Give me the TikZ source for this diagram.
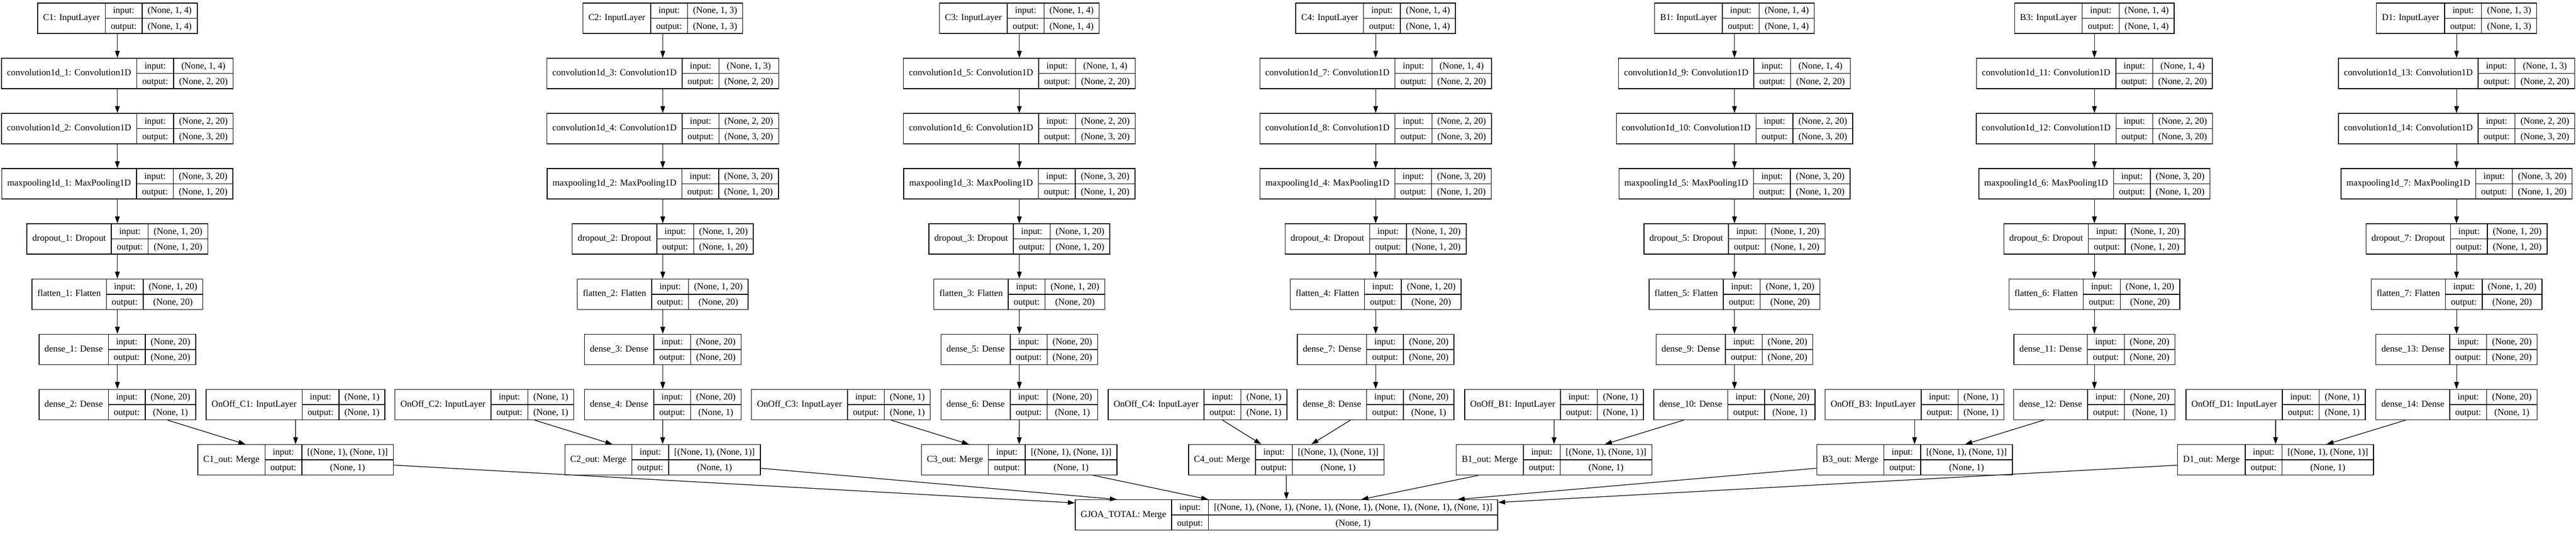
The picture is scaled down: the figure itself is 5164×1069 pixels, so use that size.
\documentclass[tikz,border=0pt]{standalone}
\usepackage{fontspec}
\setmainfont{Liberation Serif}
\usetikzlibrary{arrows.meta,calc}
\setlength{\arrayrulewidth}{1.5pt}
\newcommand{\cellpad}[1]{\kern11pt #1\kern11pt}
\newcommand{\layer}[3]{{\setlength{\tabcolsep}{0pt}\renewcommand{\arraystretch}{1.35}%
\begin{tabular}{c|c|c}\cellpad{#1}&\begin{tabular}{c}\cellpad{input:}\\\hline\cellpad{output:}\end{tabular}&\begin{tabular}{c}\cellpad{#2}\\\hline\cellpad{#3}\end{tabular}\end{tabular}}}
\begin{document}
\begin{tikzpicture}[x=1pt, y=-1pt, rec node/.style={draw, line width=1.5pt, inner sep=0pt, font=\fontsize{18.3}{22}\selectfont}]
\useasboundingbox[fill=white] (0,0) rectangle (5164,1069);
\begin{scope}
% C1
\node[rec node] (c1v1) at (235.3,36.5) {\layer{C1: InputLayer}{(None, 1, 4)}{(None, 1, 4)}};
\node[rec node] (c1v2) at (235.3,147.1) {\layer{convolution1d\_1: Convolution1D}{(None, 1, 4)}{(None, 2, 20)}};
\node[rec node] (c1v3) at (235.3,257.7) {\layer{convolution1d\_2: Convolution1D}{(None, 2, 20)}{(None, 3, 20)}};
\node[rec node] (c1v4) at (235.3,368.3) {\layer{maxpooling1d\_1: MaxPooling1D}{(None, 3, 20)}{(None, 1, 20)}};
\node[rec node] (c1v5) at (235.3,478.9) {\layer{dropout\_1: Dropout}{(None, 1, 20)}{(None, 1, 20)}};
\node[rec node] (c1v6) at (235.3,589.5) {\layer{flatten\_1: Flatten}{(None, 1, 20)}{(None, 20)}};
\node[rec node] (c1v7) at (235.3,700.1) {\layer{dense\_1: Dense}{(None, 20)}{(None, 20)}};
\node[rec node] (c1v8) at (235.3,810.7) {\layer{dense\_2: Dense}{(None, 20)}{(None, 1)}};
\node[rec node] (c1on) at (592.4,810.7) {\layer{OnOff\_C1: InputLayer}{(None, 1)}{(None, 1)}};
\node[rec node] (c1out) at (592.6,921.3) {\layer{C1\_out: Merge}{[(None, 1), (None, 1)]}{(None, 1)}};
% C2
\node[rec node] (c2v1) at (1328.6,36.5) {\layer{C2: InputLayer}{(None, 1, 3)}{(None, 1, 3)}};
\node[rec node] (c2v2) at (1328.6,147.1) {\layer{convolution1d\_3: Convolution1D}{(None, 1, 3)}{(None, 2, 20)}};
\node[rec node] (c2v3) at (1328.6,257.7) {\layer{convolution1d\_4: Convolution1D}{(None, 2, 20)}{(None, 3, 20)}};
\node[rec node] (c2v4) at (1328.6,368.3) {\layer{maxpooling1d\_2: MaxPooling1D}{(None, 3, 20)}{(None, 1, 20)}};
\node[rec node] (c2v5) at (1328.6,478.9) {\layer{dropout\_2: Dropout}{(None, 1, 20)}{(None, 1, 20)}};
\node[rec node] (c2v6) at (1328.6,589.5) {\layer{flatten\_2: Flatten}{(None, 1, 20)}{(None, 20)}};
\node[rec node] (c2v7) at (1328.6,700.1) {\layer{dense\_3: Dense}{(None, 20)}{(None, 20)}};
\node[rec node] (c2v8) at (1328.6,810.7) {\layer{dense\_4: Dense}{(None, 20)}{(None, 1)}};
\node[rec node] (c2on) at (971,810.7) {\layer{OnOff\_C2: InputLayer}{(None, 1)}{(None, 1)}};
\node[rec node] (c2out) at (1328.2,921.3) {\layer{C2\_out: Merge}{[(None, 1), (None, 1)]}{(None, 1)}};
% C3
\node[rec node] (c3v1) at (2043.4,36.5) {\layer{C3: InputLayer}{(None, 1, 4)}{(None, 1, 4)}};
\node[rec node] (c3v2) at (2043.4,147.1) {\layer{convolution1d\_5: Convolution1D}{(None, 1, 4)}{(None, 2, 20)}};
\node[rec node] (c3v3) at (2043.4,257.7) {\layer{convolution1d\_6: Convolution1D}{(None, 2, 20)}{(None, 3, 20)}};
\node[rec node] (c3v4) at (2043.4,368.3) {\layer{maxpooling1d\_3: MaxPooling1D}{(None, 3, 20)}{(None, 1, 20)}};
\node[rec node] (c3v5) at (2043.4,478.9) {\layer{dropout\_3: Dropout}{(None, 1, 20)}{(None, 1, 20)}};
\node[rec node] (c3v6) at (2043.4,589.5) {\layer{flatten\_3: Flatten}{(None, 1, 20)}{(None, 20)}};
\node[rec node] (c3v7) at (2043.4,700.1) {\layer{dense\_5: Dense}{(None, 20)}{(None, 20)}};
\node[rec node] (c3v8) at (2043.4,810.7) {\layer{dense\_6: Dense}{(None, 20)}{(None, 1)}};
\node[rec node] (c3on) at (1685.7,810.7) {\layer{OnOff\_C3: InputLayer}{(None, 1)}{(None, 1)}};
\node[rec node] (c3out) at (2043,921.3) {\layer{C3\_out: Merge}{[(None, 1), (None, 1)]}{(None, 1)}};
% C4
\node[rec node] (c4v1) at (2757.7,36.5) {\layer{C4: InputLayer}{(None, 1, 4)}{(None, 1, 4)}};
\node[rec node] (c4v2) at (2757.7,147.1) {\layer{convolution1d\_7: Convolution1D}{(None, 1, 4)}{(None, 2, 20)}};
\node[rec node] (c4v3) at (2757.7,257.7) {\layer{convolution1d\_8: Convolution1D}{(None, 2, 20)}{(None, 3, 20)}};
\node[rec node] (c4v4) at (2757.7,368.3) {\layer{maxpooling1d\_4: MaxPooling1D}{(None, 3, 20)}{(None, 1, 20)}};
\node[rec node] (c4v5) at (2757.7,478.9) {\layer{dropout\_4: Dropout}{(None, 1, 20)}{(None, 1, 20)}};
\node[rec node] (c4v6) at (2757.7,589.5) {\layer{flatten\_4: Flatten}{(None, 1, 20)}{(None, 20)}};
\node[rec node] (c4v7) at (2757.7,700.1) {\layer{dense\_7: Dense}{(None, 20)}{(None, 20)}};
\node[rec node] (c4v8) at (2757.7,810.7) {\layer{dense\_8: Dense}{(None, 20)}{(None, 1)}};
\node[rec node] (c4on) at (2400.6,810.7) {\layer{OnOff\_C4: InputLayer}{(None, 1)}{(None, 1)}};
\node[rec node] (c4out) at (2578.4,921.3) {\layer{C4\_out: Merge}{[(None, 1), (None, 1)]}{(None, 1)}};
% B1
\node[rec node] (b1v1) at (3477,36.5) {\layer{B1: InputLayer}{(None, 1, 4)}{(None, 1, 4)}};
\node[rec node] (b1v2) at (3477,147.1) {\layer{convolution1d\_9: Convolution1D}{(None, 1, 4)}{(None, 2, 20)}};
\node[rec node] (b1v3) at (3477,257.7) {\layer{convolution1d\_10: Convolution1D}{(None, 2, 20)}{(None, 3, 20)}};
\node[rec node] (b1v4) at (3477,368.3) {\layer{maxpooling1d\_5: MaxPooling1D}{(None, 3, 20)}{(None, 1, 20)}};
\node[rec node] (b1v5) at (3477,478.9) {\layer{dropout\_5: Dropout}{(None, 1, 20)}{(None, 1, 20)}};
\node[rec node] (b1v6) at (3477,589.5) {\layer{flatten\_5: Flatten}{(None, 1, 20)}{(None, 20)}};
\node[rec node] (b1v7) at (3477,700.1) {\layer{dense\_9: Dense}{(None, 20)}{(None, 20)}};
\node[rec node] (b1v8) at (3477,810.7) {\layer{dense\_10: Dense}{(None, 20)}{(None, 1)}};
\node[rec node] (b1on) at (3115.3,810.7) {\layer{OnOff\_B1: InputLayer}{(None, 1)}{(None, 1)}};
\node[rec node] (b1out) at (3115.4,921.3) {\layer{B1\_out: Merge}{[(None, 1), (None, 1)]}{(None, 1)}};
% B3
\node[rec node] (b3v1) at (4198.5,36.5) {\layer{B3: InputLayer}{(None, 1, 4)}{(None, 1, 4)}};
\node[rec node] (b3v2) at (4198.5,147.1) {\layer{convolution1d\_11: Convolution1D}{(None, 1, 4)}{(None, 2, 20)}};
\node[rec node] (b3v3) at (4198.5,257.7) {\layer{convolution1d\_12: Convolution1D}{(None, 2, 20)}{(None, 3, 20)}};
\node[rec node] (b3v4) at (4198.5,368.3) {\layer{maxpooling1d\_6: MaxPooling1D}{(None, 3, 20)}{(None, 1, 20)}};
\node[rec node] (b3v5) at (4198.5,478.9) {\layer{dropout\_6: Dropout}{(None, 1, 20)}{(None, 1, 20)}};
\node[rec node] (b3v6) at (4198.5,589.5) {\layer{flatten\_6: Flatten}{(None, 1, 20)}{(None, 20)}};
\node[rec node] (b3v7) at (4198.5,700.1) {\layer{dense\_11: Dense}{(None, 20)}{(None, 20)}};
\node[rec node] (b3v8) at (4198.5,810.7) {\layer{dense\_12: Dense}{(None, 20)}{(None, 1)}};
\node[rec node] (b3on) at (3838,810.7) {\layer{OnOff\_B3: InputLayer}{(None, 1)}{(None, 1)}};
\node[rec node] (b3out) at (3838,921.3) {\layer{B3\_out: Merge}{[(None, 1), (None, 1)]}{(None, 1)}};
% D1
\node[rec node] (d1v1) at (4924.5,36.5) {\layer{D1: InputLayer}{(None, 1, 3)}{(None, 1, 3)}};
\node[rec node] (d1v2) at (4924.5,147.1) {\layer{convolution1d\_13: Convolution1D}{(None, 1, 3)}{(None, 2, 20)}};
\node[rec node] (d1v3) at (4924.5,257.7) {\layer{convolution1d\_14: Convolution1D}{(None, 2, 20)}{(None, 3, 20)}};
\node[rec node] (d1v4) at (4924.5,368.3) {\layer{maxpooling1d\_7: MaxPooling1D}{(None, 3, 20)}{(None, 1, 20)}};
\node[rec node] (d1v5) at (4924.5,478.9) {\layer{dropout\_7: Dropout}{(None, 1, 20)}{(None, 1, 20)}};
\node[rec node] (d1v6) at (4924.5,589.5) {\layer{flatten\_7: Flatten}{(None, 1, 20)}{(None, 20)}};
\node[rec node] (d1v7) at (4924.5,700.1) {\layer{dense\_13: Dense}{(None, 20)}{(None, 20)}};
\node[rec node] (d1v8) at (4924.5,810.7) {\layer{dense\_14: Dense}{(None, 20)}{(None, 1)}};
\node[rec node] (d1on) at (4561.7,810.7) {\layer{OnOff\_D1: InputLayer}{(None, 1)}{(None, 1)}};
\node[rec node] (d1out) at (4561.7,921.3) {\layer{D1\_out: Merge}{[(None, 1), (None, 1)]}{(None, 1)}};
% total
\node[rec node] (gjoa) at (2579,1031.9) {\layer{GJOA\_TOTAL: Merge}{[(None, 1), (None, 1), (None, 1), (None, 1), (None, 1), (None, 1), (None, 1)]}{(None, 1)}};
\coordinate (g1) at ($(gjoa.north west)+(0,7)$);
\coordinate (g2) at ($(gjoa.north)+(-340,0)$);
\coordinate (g3) at ($(gjoa.north)+(-157,0)$);
\coordinate (g5) at ($(gjoa.north)+(150,0)$);
\coordinate (g6) at ($(gjoa.north)+(343,0)$);
\coordinate (g7) at ($(gjoa.north east)+(0,6)$);
\end{scope}
\begin{scope}[every edge/.style={draw=black, line width=1.3pt, -{Triangle[length=14pt,width=9.5pt]}}]
\draw (c1v1) edge (c1v2) (c1v2) edge (c1v3) (c1v3) edge (c1v4) (c1v4) edge (c1v5);
\draw (c1v5) edge (c1v6) (c1v6) edge (c1v7) (c1v7) edge (c1v8);
\draw (c1v8) edge (c1out) (c1on) edge (c1out);
\draw (c2v1) edge (c2v2) (c2v2) edge (c2v3) (c2v3) edge (c2v4) (c2v4) edge (c2v5);
\draw (c2v5) edge (c2v6) (c2v6) edge (c2v7) (c2v7) edge (c2v8);
\draw (c2v8) edge (c2out) (c2on) edge (c2out);
\draw (c3v1) edge (c3v2) (c3v2) edge (c3v3) (c3v3) edge (c3v4) (c3v4) edge (c3v5);
\draw (c3v5) edge (c3v6) (c3v6) edge (c3v7) (c3v7) edge (c3v8);
\draw (c3v8) edge (c3out) (c3on) edge (c3out);
\draw (c4v1) edge (c4v2) (c4v2) edge (c4v3) (c4v3) edge (c4v4) (c4v4) edge (c4v5);
\draw (c4v5) edge (c4v6) (c4v6) edge (c4v7) (c4v7) edge (c4v8);
\draw (c4v8) edge (c4out) (c4on) edge (c4out);
\draw (b1v1) edge (b1v2) (b1v2) edge (b1v3) (b1v3) edge (b1v4) (b1v4) edge (b1v5);
\draw (b1v5) edge (b1v6) (b1v6) edge (b1v7) (b1v7) edge (b1v8);
\draw (b1v8) edge (b1out) (b1on) edge (b1out);
\draw (b3v1) edge (b3v2) (b3v2) edge (b3v3) (b3v3) edge (b3v4) (b3v4) edge (b3v5);
\draw (b3v5) edge (b3v6) (b3v6) edge (b3v7) (b3v7) edge (b3v8);
\draw (b3v8) edge (b3out) (b3on) edge (b3out);
\draw (d1v1) edge (d1v2) (d1v2) edge (d1v3) (d1v3) edge (d1v4) (d1v4) edge (d1v5);
\draw (d1v5) edge (d1v6) (d1v6) edge (d1v7) (d1v7) edge (d1v8);
\draw (d1v8) edge (d1out) (d1on) edge (d1out);
\draw (c1out) edge (g1) (c2out) edge (g2) (c3out) edge (g3) (c4out) edge (gjoa);
\draw (b1out) edge (g5) (b3out) edge (g6) (d1out) edge (g7);
\end{scope}
\end{tikzpicture}
\end{document}
